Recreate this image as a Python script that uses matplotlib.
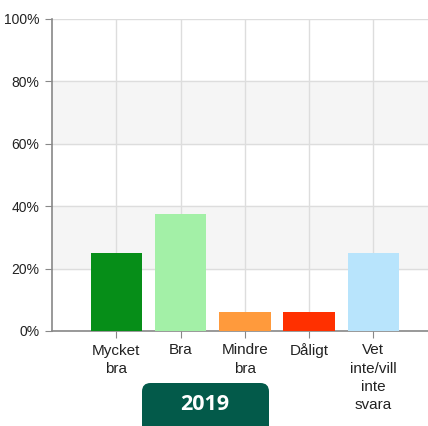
import matplotlib.pyplot as plt
from matplotlib.patches import FancyBboxPatch
import numpy as np

plt.rcParams['font.family'] = ['Liberation Sans', 'DejaVu Sans']

# Data
categories = ["Mycket\nbra", "Bra", "Mindre\nbra", "Dåligt", "Vet\ninte/vill\ninte\nsvara"]
values = [25.0, 37.5, 6.25, 6.25, 25.0]
colors = ["#068e18", "#a3f0a7", "#ff9a3c", "#ff3000", "#b8e4fc"]
yticks = [0, 20, 40, 60, 80, 100]
year = "2019"

fig = plt.figure(figsize=(4.28, 4.26), dpi=100)
ax = fig.add_axes([52/428, 1 - 331/426, 1 - 52/428, (331 - 19)/426])

x = np.arange(len(categories))

# alternating bands
for lo in (20, 60):
    ax.axhspan(lo, lo + 20, color="#f5f5f5", zorder=0)

ax.bar(x, values, width=0.8, color=colors, zorder=3)

ax.set_xlim(-1, 4.85)
ax.set_ylim(0, 100)
ax.set_yticks(yticks)
ax.set_yticklabels([f"{t}%" for t in yticks], fontsize=10, color="#222222")
ax.set_xticks(x)
ax.set_xticklabels(categories, fontsize=11, color="#222222", linespacing=1.38)

ax.grid(True, color="#dddddd", linewidth=1, zorder=1)
ax.set_axisbelow(True)

for s in ("top", "right"):
    ax.spines[s].set_visible(False)
for s in ("left", "bottom"):
    ax.spines[s].set_color("#888888")
    ax.spines[s].set_linewidth(1.2)
ax.tick_params(length=5, color="#888888", pad=4)

# year badge
box = FancyBboxPatch((142/428, -0.03), 127/428, (426 - 383)/426 + 0.03,
                     boxstyle="round,pad=0,rounding_size=0.02",
                     transform=fig.transFigure, facecolor="#035a4a",
                     edgecolor="none")
fig.patches.append(box)
fig.text(205/428, 1 - 405/426, year, color="white", fontsize=15.5,
         fontweight="bold", ha="center", va="center", family="Open Sans")

fig.savefig("out.png", dpi=100)
